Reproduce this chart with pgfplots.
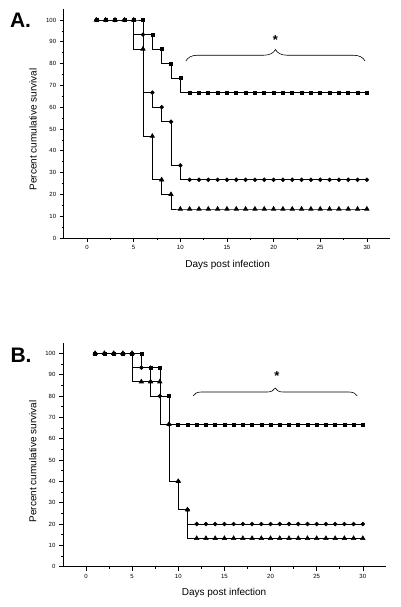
\documentclass[border=0pt]{standalone}
\usepackage{fontspec}
\setmainfont{Liberation Sans}
\usepackage{pgfplots}
\pgfplotsset{compat=1.18}
\usetikzlibrary{decorations.pathreplacing}

\pgfplotsset{
 surv/.style={
  scale only axis,
  axis x line*=bottom, axis y line*=left,
  xmin=-2.5, xmax=32.5, ymin=0, ymax=105,
  xtick={0,5,...,30}, ytick={0,10,...,100},
  minor x tick num=1, minor y tick num=1,
  tick align=outside,
  major tick length=4pt, minor tick length=2pt,
  tick style={line width=0.6pt, black},
  axis line style={line width=0.6pt},
  ticklabel style={font=\fontsize{6}{7}\selectfont},
  /pgf/number format/assume math mode=true,
  label style={font=\fontsize{10}{12}\selectfont},
  xlabel={Days post infection},
  ylabel={Percent cumulative survival},
  clip=false,
  every axis plot/.append style={const plot mark right, line width=0.6pt, black, mark options={solid}},
 },
 sq/.style={mark=square*, mark size=1.5pt},
 ci/.style={mark=*, mark size=1.9pt},
 tr/.style={mark=triangle*, mark size=2.5pt},
}

\begin{document}
\begin{tikzpicture}
\path[use as bounding box] (0,0) rectangle (401pt,607pt);

\node[font=\bfseries\fontsize{21}{24}\selectfont] at (20.5pt,586.5pt) {A.};
\node[font=\bfseries\fontsize{21}{24}\selectfont] at (21pt,252pt) {B.};

% Panel A
\begin{axis}[surv, at={(63.7pt,369pt)}, anchor=south west, width=326.5pt, height=228.9pt,
  xlabel style={at={(axis description cs:0.502,-0.118)}, anchor=center},
  ylabel style={at={(axis description cs:-0.094,0.474)}, anchor=center, rotate=0}]
\addplot[sq] coordinates {(1,100)(2,100)(3,100)(4,100)(5,100)(6,100)(7,93.3)(8,86.7)(9,80)(10,73.3)
 (11,66.7)(12,66.7)(13,66.7)(14,66.7)(15,66.7)(16,66.7)(17,66.7)(18,66.7)(19,66.7)(20,66.7)
 (21,66.7)(22,66.7)(23,66.7)(24,66.7)(25,66.7)(26,66.7)(27,66.7)(28,66.7)(29,66.7)(30,66.7)};
\addplot[ci] coordinates {(1,100)(2,100)(3,100)(4,100)(5,100)(6,93.3)(7,66.7)(8,60)(9,53.3)(10,33.3)
 (11,26.7)(12,26.7)(13,26.7)(14,26.7)(15,26.7)(16,26.7)(17,26.7)(18,26.7)(19,26.7)(20,26.7)
 (21,26.7)(22,26.7)(23,26.7)(24,26.7)(25,26.7)(26,26.7)(27,26.7)(28,26.7)(29,26.7)(30,26.7)};
\addplot[tr] coordinates {(1,100)(2,100)(3,100)(4,100)(5,100)(6,86.7)(7,46.7)(8,26.7)(9,20)(10,13.3)
 (11,13.3)(12,13.3)(13,13.3)(14,13.3)(15,13.3)(16,13.3)(17,13.3)(18,13.3)(19,13.3)(20,13.3)
 (21,13.3)(22,13.3)(23,13.3)(24,13.3)(25,13.3)(26,13.3)(27,13.3)(28,13.3)(29,13.3)(30,13.3)};
\draw[line width=0.6pt, decorate, decoration={brace, amplitude=11.5pt}] (axis cs:10.6,81.2) -- (axis cs:29.8,81.2);
\node[anchor=base, font=\bfseries\fontsize{13}{15}\selectfont] at (axis cs:20.2,88.6) {*};
\end{axis}

% Panel B
\begin{axis}[surv, at={(62.9pt,40.3pt)}, anchor=south west, width=323pt, height=224pt,
  xlabel style={at={(axis description cs:0.499,-0.117)}, anchor=center},
  ylabel style={at={(axis description cs:-0.093,0.47)}, anchor=center, rotate=0}]
\addplot[sq] coordinates {(1,100)(2,100)(3,100)(4,100)(5,100)(6,100)(7,93.3)(8,93.3)(9,80)(10,66.7)
 (11,66.7)(12,66.7)(13,66.7)(14,66.7)(15,66.7)(16,66.7)(17,66.7)(18,66.7)(19,66.7)(20,66.7)
 (21,66.7)(22,66.7)(23,66.7)(24,66.7)(25,66.7)(26,66.7)(27,66.7)(28,66.7)(29,66.7)(30,66.7)};
\addplot[tr] coordinates {(1,100)(2,100)(3,100)(4,100)(5,100)(6,86.7)(7,86.7)(8,86.7)(9,66.7)(10,40)
 (11,26.7)(12,13.3)(13,13.3)(14,13.3)(15,13.3)(16,13.3)(17,13.3)(18,13.3)(19,13.3)(20,13.3)
 (21,13.3)(22,13.3)(23,13.3)(24,13.3)(25,13.3)(26,13.3)(27,13.3)(28,13.3)(29,13.3)(30,13.3)};
\addplot[ci] coordinates {(1,100)(2,100)(3,100)(4,100)(5,100)(6,93.3)(7,93.3)(8,80)(9,66.7)(10,40)
 (11,26.7)(12,20)(13,20)(14,20)(15,20)(16,20)(17,20)(18,20)(19,20)(20,20)
 (21,20)(22,20)(23,20)(24,20)(25,20)(26,20)(27,20)(28,20)(29,20)(30,20)};
\draw[line width=0.6pt, decorate, decoration={brace, amplitude=8pt}] (axis cs:11.6,80) -- (axis cs:29.4,80);
\node[anchor=base, font=\bfseries\fontsize{13}{15}\selectfont] at (axis cs:20.7,87.5) {*};
\end{axis}
\end{tikzpicture}
\end{document}
